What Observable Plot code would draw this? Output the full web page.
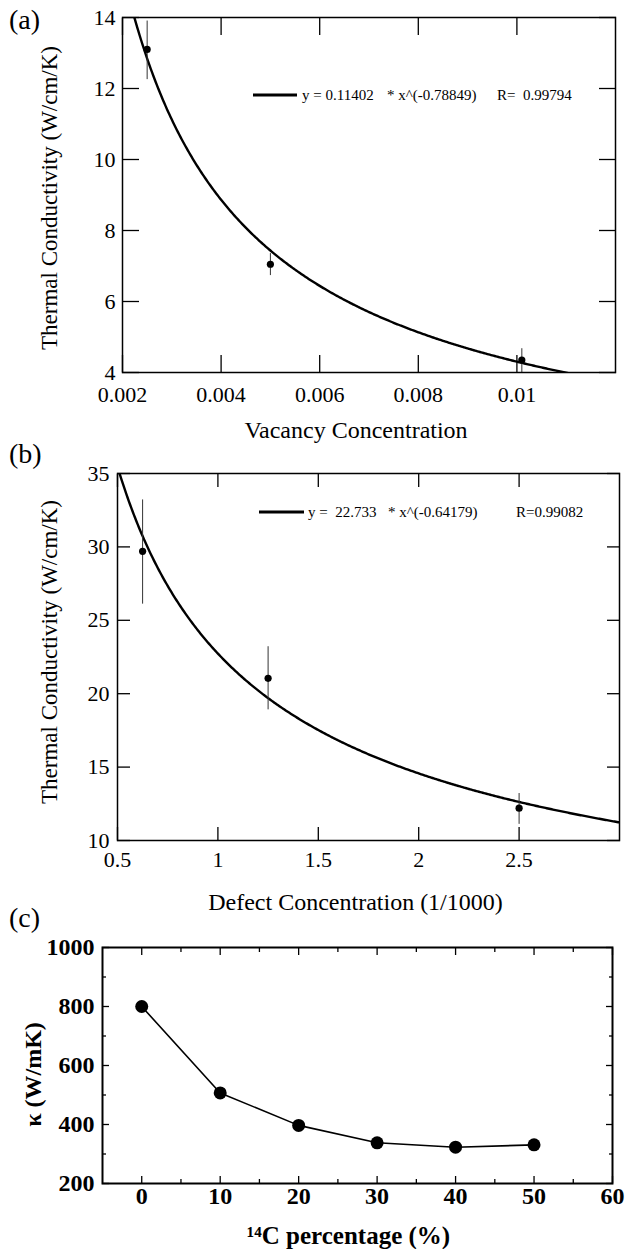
<!DOCTYPE html>
<html><head><meta charset="utf-8">
<script src="https://cdn.jsdelivr.net/npm/d3@7"></script>
<script src="https://cdn.jsdelivr.net/npm/@observablehq/plot@0.6"></script>
<style>
body{margin:0;background:#fff;}
#wrap{position:relative;width:625px;height:1249px;overflow:hidden;font-family:"Liberation Serif","Times New Roman",serif;color:#000;}
#wrap svg, #wrap svg text{font-family:"Liberation Serif","Times New Roman",serif !important;}
.panel{position:absolute;left:0;}
.tag{position:absolute;left:9px;font-size:28px;line-height:1;}
</style></head><body><div id="wrap"></div>
<script>
// ---------- Panel (a) data ----------
const vacancyConc = [0.0025, 0.005, 0.0101];
const vacancyK = [13.1, 7.05, 4.35];
const vacancyErrLow = [12.25, 6.73, 4.0];
const vacancyErrHigh = [13.9, 7.35, 4.67];
const fitACoef = 0.11402;
const fitAExp = -0.78849;
const fitAText = ["y = 0.11402", "* x^(-0.78849)", "R=  0.99794"];
const xTicksA = [0.002, 0.004, 0.006, 0.008, 0.01];
const yTicksA = [4, 6, 8, 10, 12, 14];

// ---------- Panel (b) data ----------
const defectConc = [0.625, 1.25, 2.5];
const defectK = [29.7, 21.05, 12.2];
const defectErrLow = [26.1, 18.9, 11.1];
const defectErrHigh = [33.2, 23.2, 13.2];
const fitBCoef = 22.733;
const fitBExp = -0.64179;
const fitBText = ["y =  22.733", "* x^(-0.64179)", "R=0.99082"];
const xTicksB = [0.5, 1, 1.5, 2, 2.5];
const yTicksB = [10, 15, 20, 25, 30, 35];

// ---------- Panel (c) data ----------
const c14Pct = [0, 10, 20, 30, 40, 50];
const c14Kappa = [800, 507, 397, 338, 323, 331];
const xTicksC = [0, 10, 20, 30, 40, 50, 60];
const xMinorC = [5, 15, 25, 35, 45, 55];
const yTicksC = [200, 400, 600, 800, 1000];
const yMinorC = [300, 500, 700, 900];

const wrap = document.getElementById("wrap");
function place(el, top) { el.classList.add("panel"); el.style.top = top + "px"; wrap.appendChild(el); }
function tag(text, top) { const d = document.createElement("div"); d.className = "tag"; d.style.top = top + "px"; d.textContent = text; wrap.appendChild(d); }

const tableA = vacancyConc.map((x, i) => ({x, y: vacancyK[i], lo: vacancyErrLow[i], hi: vacancyErrHigh[i]}));
const tableB = defectConc.map((x, i) => ({x, y: defectK[i], lo: defectErrLow[i], hi: defectErrHigh[i]}));
const tableC = c14Pct.map((x, i) => ({x, y: c14Kappa[i]}));

// fitted power-law curves drawn from the equations shown in the legends
function fitCurve(domain, coef, exp) {
  const n = 400;
  return d3.range(n + 1).map(i => { const x = domain[0] + (domain[1] - domain[0]) * i / n; return {x, y: coef * Math.pow(x, exp)}; });
}

function legendMark(lx1, lx2, ly, texts, tx) {
  return () => {
    const g = d3.create("svg:g");
    g.append("line").attr("x1", lx1).attr("x2", lx2).attr("y1", ly).attr("y2", ly).attr("stroke", "black").attr("stroke-width", 3.2);
    texts.forEach((t, i) => g.append("text").attr("x", tx[i]).attr("y", ly).attr("dy", "0.35em")
      .attr("text-anchor", "start").attr("font-size", 15).attr("font-weight", "normal").attr("fill", "black").text(t));
    return g.node();
  };
}

function boxAxes(xt, yt, len, fmt, padX, padY, fontSize) {
  return [
    Plot.axisX(xt, {anchor: "bottom", tickSize: 0, tickPadding: padX, label: null, fontSize, tickFormat: fmt}),
    Plot.axisY(yt, {anchor: "left", tickSize: 0, tickPadding: padY, label: null, fontSize, tickFormat: fmt}),
    Plot.axisX(xt, {anchor: "bottom", tickSize: len, dy: -len, fill: "none", label: null, strokeWidth: 1.3}),
    Plot.axisX(xt, {anchor: "top", tickSize: len, dy: len, fill: "none", label: null, strokeWidth: 1.3}),
    Plot.axisY(yt, {anchor: "left", tickSize: len, dx: len, fill: "none", label: null, strokeWidth: 1.3}),
    Plot.axisY(yt, {anchor: "right", tickSize: len, dx: -len, fill: "none", label: null, strokeWidth: 1.3})
  ];
}
const serif = "Liberation Serif, Times New Roman, serif";

// ---------- Panel (a) ----------
const domXA = [0.002, 0.012];
const plotA = Plot.plot({
  width: 625, height: 445,
  marginTop: 17, marginBottom: 73, marginLeft: 122, marginRight: 10,
  style: {fontFamily: serif, fontSize: "22px", background: "white", color: "black"},
  x: {domain: domXA, axis: null},
  y: {domain: [4, 14], axis: null},
  marks: [
    ...boxAxes(xTicksA, yTicksA, 17, d => String(d), 14, 7, 22),
    Plot.line(fitCurve(domXA, fitACoef, fitAExp), {x: "x", y: "y", stroke: "black", strokeWidth: 2.4, clip: true}),
    Plot.ruleX(tableA, {x: "x", y1: "lo", y2: "hi", stroke: "#333", strokeWidth: 1}),
    Plot.dot(tableA, {x: "x", y: "y", r: 3.6, fill: "black"}),
    Plot.frame({stroke: "black", strokeWidth: 1.5}),
    legendMark(253, 297, 95, fitAText, [302, 387, 497]),
    Plot.text(["Thermal Conductivity (W/cm/K)"], {frameAnchor: "left", textAnchor: "middle", lineAnchor: "middle", rotate: -90, dx: -73, dy: 3, fontSize: 23}),
    Plot.text(["Vacancy Concentration"], {frameAnchor: "bottom", textAnchor: "middle", lineAnchor: "middle", dy: 58, dx: -13, fontSize: 24})
  ]
});
place(plotA, 0);

// ---------- Panel (b) ----------
const domXB = [0.5, 3.0];
const plotB = Plot.plot({
  width: 625, height: 470,
  marginTop: 28, marginBottom: 75, marginLeft: 117, marginRight: 6,
  style: {fontFamily: serif, fontSize: "22px", background: "transparent", color: "black"},
  x: {domain: domXB, axis: null},
  y: {domain: [10, 35], axis: null},
  marks: [
    ...boxAxes(xTicksB, yTicksB, 13, d => String(d), 11, 8, 22),
    Plot.line(fitCurve(domXB, fitBCoef, fitBExp), {x: "x", y: "y", stroke: "black", strokeWidth: 2.4, clip: true}),
    Plot.ruleX(tableB, {x: "x", y1: "lo", y2: "hi", stroke: "#333", strokeWidth: 1}),
    Plot.dot(tableB, {x: "x", y: "y", r: 3.6, fill: "black"}),
    Plot.frame({stroke: "black", strokeWidth: 1.5}),
    legendMark(259, 304, 67, fitBText, [308, 388, 516]),
    Plot.text(["Thermal Conductivity (W/cm/K)"], {frameAnchor: "left", textAnchor: "middle", lineAnchor: "middle", rotate: -90, dx: -68, dy: -5, fontSize: 23}),
    Plot.text(["Defect Concentration (1/1000)"], {frameAnchor: "bottom", textAnchor: "middle", lineAnchor: "middle", dy: 62, dx: -13, fontSize: 24})
  ]
});
place(plotB, 445);

// ---------- Panel (c) ----------
const plotC = Plot.plot({
  width: 625, height: 334,
  marginTop: 32, marginBottom: 66, marginLeft: 102, marginRight: 13,
  style: {fontFamily: serif, fontSize: "24px", fontWeight: "bold", background: "transparent", color: "black"},
  x: {domain: [-5, 60], axis: null},
  y: {domain: [200, 1000], axis: null},
  marks: [
    ...boxAxes(xTicksC, yTicksC, 7, d => String(d), 3, 8, 24),
    Plot.axisX(xMinorC, {anchor: "bottom", tickSize: 4, dy: -4, fill: "none", label: null, strokeWidth: 1.3}),
    Plot.axisX(xMinorC, {anchor: "top", tickSize: 4, dy: 4, fill: "none", label: null, strokeWidth: 1.3}),
    Plot.axisY(yMinorC, {anchor: "left", tickSize: 4, dx: 4, fill: "none", label: null, strokeWidth: 1.3}),
    Plot.axisY(yMinorC, {anchor: "right", tickSize: 4, dx: -4, fill: "none", label: null, strokeWidth: 1.3}),
    Plot.line(tableC, {x: "x", y: "y", stroke: "black", strokeWidth: 1.6}),
    Plot.dot(tableC, {x: "x", y: "y", r: 6.5, fill: "black"}),
    Plot.frame({stroke: "black", strokeWidth: 2}),
    Plot.text(["κ (W/mK)"], {frameAnchor: "left", textAnchor: "middle", lineAnchor: "middle", rotate: -90, dx: -69, dy: 9, fontSize: 24, fontWeight: "bold"}),
    Plot.text(["¹⁴C percentage (%)"], {frameAnchor: "bottom", textAnchor: "middle", lineAnchor: "middle", dy: 52, dx: -9, fontSize: 25, fontWeight: "bold"})
  ]
});
place(plotC, 915);

tag("(a)", 6);
tag("(b)", 440);
tag("(c)", 904);
</script></body></html>
